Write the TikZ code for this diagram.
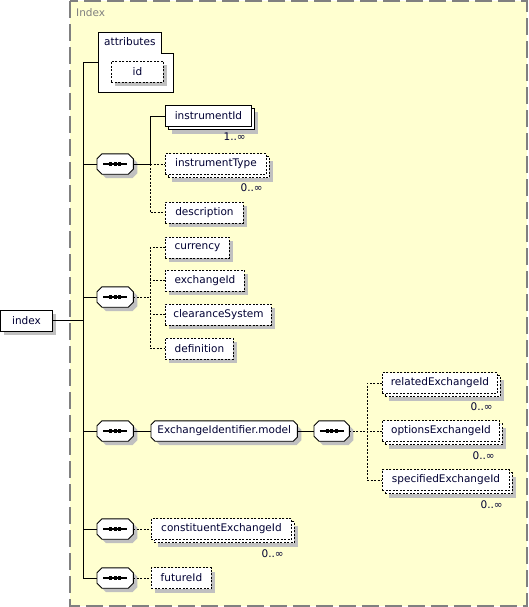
\documentclass[tikz,border=0pt]{standalone}
\usepackage{fontspec}
\setmainfont{DejaVu Sans}
\usetikzlibrary{positioning,calc,shadows}
\definecolor{cP}{HTML}{FFFFD0}
\definecolor{cG}{HTML}{808080}
\definecolor{cS}{HTML}{C0C0C0}
\definecolor{cT}{HTML}{000033}
\tikzset{
  panel/.style={draw=cG,fill=cP,line width=1.6pt,dash pattern=on 17pt off 6pt},
  shad/.style={drop shadow={shadow xshift=4pt,shadow yshift=-4pt,fill=cS,opacity=1,draw=none}},
  mshad/.style={drop shadow={shadow xshift=7pt,shadow yshift=-7pt,fill=cS,opacity=1,draw=none},
                copy shadow={shadow xshift=3pt,shadow yshift=-3pt,fill=white}},
  base/.style={rectangle,draw,fill=white,line width=.9pt,minimum height=21pt,
               inner xsep=0pt,anchor=west,text=cT},
  req/.style={base,shad},
  opt/.style={base,shad,dash pattern=on 2pt off 1.5pt},
  reqm/.style={base,mshad},
  optm/.style={base,mshad,dash pattern=on 2pt off 1.5pt},
  seqbox/.style={rectangle,minimum width=36pt,minimum height=20pt,inner sep=0pt,anchor=west},
  grpbox/.style={rectangle,minimum height=20pt,inner xsep=0pt,anchor=west,text=cT},
  mult/.style={anchor=east,inner sep=0pt,text=cT},
  link/.style={line width=.9pt},
  olink/.style={line width=.9pt,dash pattern=on 2pt off 1.5pt},
}
% octagon round a named node: [options]{node}{chamfer}
\newcommand\octo[3][]{%
  \draw[line width=.9pt,#1] ($(#2.north west)+(#3,0)$) -- ($(#2.north east)+(-#3,0)$)
    -- ($(#2.north east)+(0,#3)$) -- ($(#2.south east)+(0,-#3)$)
    -- ($(#2.south east)+(-#3,0)$) -- ($(#2.south west)+(#3,0)$)
    -- ($(#2.south west)+(0,-#3)$) -- ($(#2.north west)+(0,#3)$) -- cycle;}

\begin{document}
\begin{tikzpicture}[x=1pt,y=-1pt,every node/.style={font=\fontsize{10.5}{12}\selectfont}]
  \useasboundingbox (0,0) rectangle (528,607);
  \draw[panel] (70,1) rectangle (527,606);
  \node[anchor=west,text=cG,inner sep=0pt] (ttl) at (76,13) {Index};
  \coordinate (trunk) at (83,0);
  \coordinate (b1) at (150,0);
  \coordinate (b2) at (367,0);

  % root and attributes
  \node[req,minimum width=52pt] (index) at (0,320.5) {index};
  \node[anchor=west,minimum width=75pt,minimum height=59pt,inner sep=0pt] (attr) at (98,62.5) {};
  \draw[fill=white,line width=.9pt] (attr.north west) -- ++(63,0) -- ++(0,21) -- ++(12,0)
    |- (attr.south west) -- cycle;
  \node[anchor=north west,inner sep=0pt,text=cT] (attrlbl) at ([xshift=6pt,yshift=-5pt]attr.north west) {attributes};
  \node[opt,minimum width=52pt] (id) at (111,72) {id};

  % sequences on the trunk
  \node[seqbox] (seq1) at (97,164) {};
  \node[seqbox] (seq2) at (97,297) {};
  \node[seqbox] (seq3) at (97,431) {};
  \node[seqbox] (seq4) at (97,529) {};
  \node[seqbox] (seq5) at (97,578) {};

  % first sequence
  \node[reqm,minimum width=86pt] (instrId) at (165,116) {instrumentId};
  \node[optm,minimum width=101pt] (instrType) at (165,164) {instrumentType};
  \node[opt,minimum width=78pt] (descr) at (165,212.5) {description};
  \node[mult] (m1) at ([xshift=-6pt,yshift=-10pt]instrId.south east) {1..∞};
  \node[mult] (m2) at ([xshift=-4pt,yshift=-13pt]instrType.south east) {0..∞};

  % second sequence
  \node[opt,minimum width=64pt] (curr) at (165,247.5) {currency};
  \node[opt,minimum width=79pt] (exch) at (165,280.5) {exchangeId};
  \node[opt,minimum width=106pt] (clear) at (165,314.5) {clearanceSystem};
  \node[opt,minimum width=68pt] (defin) at (165,348.5) {definition};

  % model group
  \node[grpbox,minimum width=146pt] (grp) at (151,431) {};
  \node[seqbox,minimum width=35pt] (seq6) at (314,431) {};
  \node[optm,minimum width=115pt] (rel) at (382,383) {relatedExchangeId};
  \node[optm,minimum width=117pt] (opts) at (382,431) {optionsExchangeId};
  \node[optm,minimum width=127pt] (spec) at (382,480) {specifiedExchangeId};
  \node[mult] (m3) at ([xshift=-5pt,yshift=-13pt]rel.south east) {0..∞};
  \node[mult] (m4) at ([xshift=-5pt,yshift=-14pt]opts.south east) {0..∞};
  \node[mult] (m5) at ([xshift=-7pt,yshift=-14pt]spec.south east) {0..∞};

  % last two
  \node[optm,minimum width=140pt] (const) at (151,529) {constituentExchangeId};
  \node[mult] (m6) at ([xshift=-8pt,yshift=-14pt]const.south east) {0..∞};
  \node[opt,minimum width=60pt] (fut) at (151,578) {futureId};

  % octagons
  \foreach \s in {seq1,seq2,seq3,seq4,seq5,seq6,grp}{
    \octo[fill=cS,draw=none,transform canvas={shift={(4pt,-4pt)}}]{\s}{5}
  }
  \foreach \s in {seq1,seq2,seq3,seq4,seq5,seq6}{
    \octo[fill=white]{\s}{5}
    \draw[line width=1.2pt] ([xshift=-12pt]\s.center) -- ([xshift=12pt]\s.center);
    \foreach \d in {-4.5,0,4.5}
      \fill ([xshift=\d pt]\s.center) +(-1.7pt,-1.7pt) rectangle +(1.7pt,1.7pt);
  }
  \octo[fill=white]{grp}{4}
  \node[grpbox,anchor=center] (grplbl) at (grp.center) {ExchangeIdentifier.model};

  % connectors
  \draw[link] (index.east) -- (index.east -| trunk);
  \draw[link] (attr.west) -| (trunk |- seq5.west) -- (seq5.west);
  \foreach \s in {seq1,seq2,seq3,seq4}
    \draw[link] (\s.west) -- (\s.west -| trunk);
  \draw[link] (seq1.east) -- (seq1.east -| b1) |- (instrId.west);
  \draw[olink] (seq1.east -| b1) -- (instrType.west);
  \draw[olink] (seq1.east -| b1) |- (descr.west);
  \draw[olink] (seq2.east) -- (seq2.east -| b1);
  \draw[olink] (curr.west) -| (b1 |- defin.west) -- (defin.west);
  \draw[olink] (exch.west) -- (exch.west -| b1);
  \draw[olink] (clear.west) -- (clear.west -| b1);
  \draw[link] (seq3.east) -- (grp.west);
  \draw[link] (grp.east) -- (seq6.west);
  \draw[olink] (seq6.east) -- (seq6.east -| b2);
  \draw[olink] (rel.west) -| (b2 |- spec.west) -- (spec.west);
  \draw[olink] (opts.west) -- (opts.west -| b2);
  \draw[olink] (seq4.east) -- (const.west);
  \draw[olink] (seq5.east) -- (fut.west);
\end{tikzpicture}
\end{document}
